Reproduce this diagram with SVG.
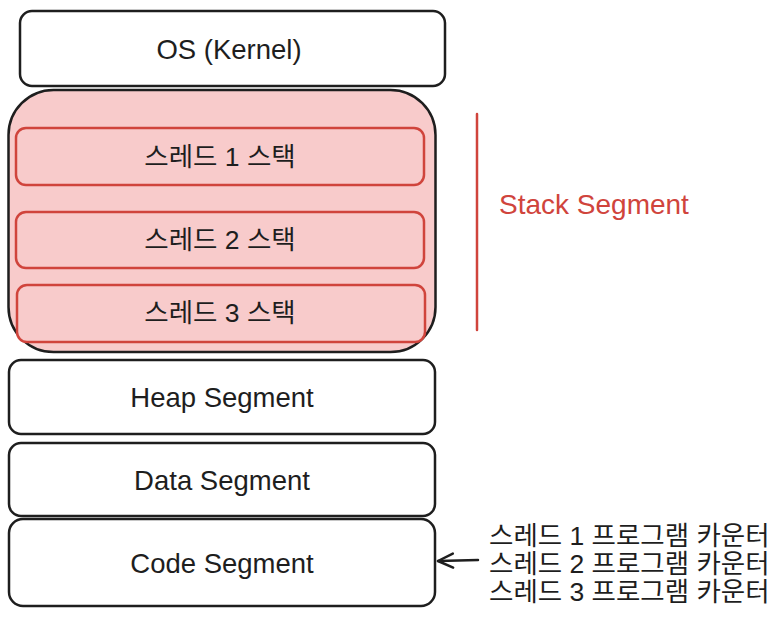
<svg xmlns="http://www.w3.org/2000/svg" width="782" height="624" viewBox="0 0 782 624">
<style>
.box{fill:#fff;stroke:#1e1e1e;stroke-width:2.5}
.stk{fill:#f8cbcb;stroke:#d0443c;stroke-width:2.5}
.t{font-family:"Liberation Sans","Noto Sans CJK KR",sans-serif;font-size:27.5px;fill:#1e1e1e;text-anchor:middle;dominant-baseline:central}
.k{font-size:26.5px}
.r{font-family:"Liberation Sans","Noto Sans CJK KR",sans-serif;font-size:26.5px;fill:#1e1e1e}
</style>
<defs>
<marker id="ah" markerWidth="22" markerHeight="22" refX="18" refY="11" orient="auto" markerUnits="userSpaceOnUse">
<path d="M3,4 L18,11 L3,18" fill="none" stroke="#1e1e1e" stroke-width="2.5" stroke-linecap="round" stroke-linejoin="round"/>
</marker>
</defs>
<rect width="782" height="624" fill="#fff"/>
<g id="os"><rect class="box" x="20" y="11" width="425" height="75" rx="12"/><text class="t" x="229" y="49">OS (Kernel)</text></g>
<g id="stack"><rect x="8.5" y="90" width="427" height="262" rx="45" fill="#f8cbcb" stroke="#1e1e1e" stroke-width="2.5"/></g>
<g id="t1"><rect class="stk" x="16" y="128" width="408" height="57" rx="10"/><text class="t k" x="220" y="157">스레드 1 스택</text></g>
<g id="t2"><rect class="stk" x="16" y="212" width="408" height="56" rx="10"/><text class="t k" x="220" y="240">스레드 2 스택</text></g>
<g id="t3"><rect class="stk" x="17" y="285" width="408" height="57" rx="10"/><text class="t k" x="220" y="313">스레드 3 스택</text></g>
<g id="heap"><rect class="box" x="9" y="360" width="426" height="74" rx="12"/><text class="t" x="222" y="397">Heap Segment</text></g>
<g id="data"><rect class="box" x="9" y="443" width="426" height="73" rx="12"/><text class="t" x="222" y="480">Data Segment</text></g>
<g id="code"><rect class="box" x="9" y="519" width="426" height="87" rx="14"/><text class="t" x="222" y="563">Code Segment</text></g>
<g id="stackLabel"><line x1="477" y1="114" x2="477" y2="330" stroke="#d0443c" stroke-width="2.5" stroke-linecap="round"/><text x="499" y="214" font-family="Liberation Sans, sans-serif" font-size="28" fill="#d0443c">Stack Segment</text></g>
<g id="pc"><text class="r" x="489" y="545">스레드 1 프로그램 카운터</text><text class="r" x="489" y="573">스레드 2 프로그램 카운터</text><text class="r" x="489" y="601">스레드 3 프로그램 카운터</text></g>
<g id="connectors"><line x1="478" y1="560" x2="438" y2="561" stroke="#1e1e1e" stroke-width="2.5" stroke-linecap="round" marker-end="url(#ah)"/></g>
</svg>
